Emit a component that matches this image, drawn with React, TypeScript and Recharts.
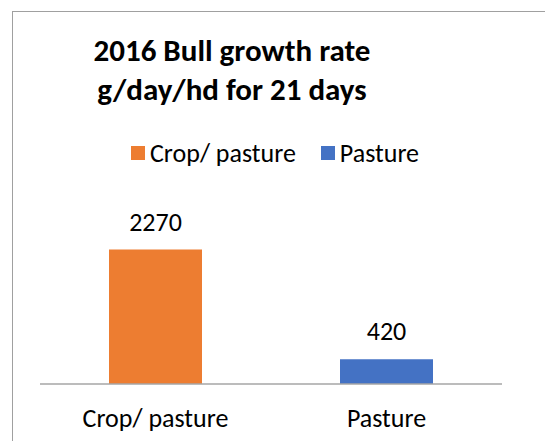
import { BarChart, Bar, XAxis, YAxis, Cell, LabelList } from "recharts";

const categories = ["Crop/ pasture", "Pasture"];
const growthRates = [2270, 420];
const barColors = ["#ed7d31", "#4472c4"];

const titleLines = ["2016 Bull growth rate", "g/day/hd for 21 days"];

const FONT = "Carlito, Calibri, Lato, sans-serif";

const data = categories.map((name, i) => ({ name, value: growthRates[i] }));

export default function App() {
  return (
    <div
      style={{
        position: "fixed",
        left: 0,
        top: 0,
        width: 545,
        height: 441,
        overflow: "hidden",
        background: "#fff",
        fontFamily: FONT,
      }}
    >
      {/* chart frame, cut off on the right and bottom like the source */}
      <div
        style={{
          position: "absolute",
          left: 12,
          top: 11,
          width: 620,
          height: 480,
          border: "1.5px solid #a0a0a0",
          boxSizing: "border-box",
        }}
      />
      <div
        style={{
          position: "absolute",
          left: 0,
          top: 31,
          width: 464,
          textAlign: "center",
          fontWeight: 700,
          fontSize: 31,
          lineHeight: "39px",
          color: "#000",
          whiteSpace: "nowrap",
        }}
      >
        {titleLines.map((t) => (
          <div key={t}>{t}</div>
        ))}
      </div>
      <div
        style={{
          position: "absolute",
          left: 131,
          top: 137,
          height: 32,
          display: "flex",
          alignItems: "center",
          gap: 25,
          fontSize: 26,
          lineHeight: "32px",
          color: "#000",
          whiteSpace: "nowrap",
        }}
      >
        {categories.map((c, i) => (
          <div key={c} style={{ display: "flex", alignItems: "center", gap: 5 }}>
            <span style={{ width: 14, height: 14, background: barColors[i], display: "inline-block" }} />
            <span>{c}</span>
          </div>
        ))}
      </div>
      <div style={{ position: "absolute", left: 0, top: 0 }}>
        <BarChart width={545} height={441} data={data} margin={{ top: 236, right: 43, bottom: 0, left: 40 }}>
          <XAxis
            dataKey="name"
            height={57}
            tickSize={0}
            tickMargin={25}
            tickLine={false}
            axisLine={{ stroke: "#a6a6a6", strokeWidth: 1.5 }}
            tick={{ fontSize: 26, fill: "#000", fontFamily: FONT }}
            interval={0}
          />
          <YAxis hide domain={[0, 2500]} width={0} />
          <Bar dataKey="value" barSize={93} isAnimationActive={false}>
            {data.map((d, i) => (
              <Cell key={d.name} fill={barColors[i]} />
            ))}
            <LabelList dataKey="value" position="top" offset={19} style={{ fontSize: 26, fill: "#000", fontFamily: FONT }} />
          </Bar>
        </BarChart>
      </div>
    </div>
  );
}
